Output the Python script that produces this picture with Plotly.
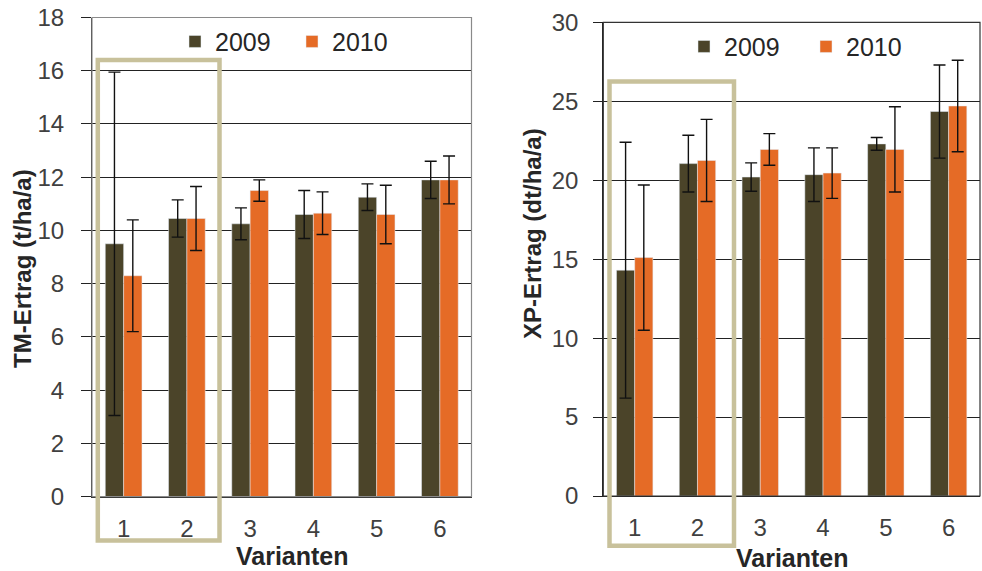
import plotly.graph_objects as go

# Varianten (categories)
varianten = ["1", "2", "3", "4", "5", "6"]

# TM-Ertrag (t/ha/a): means and standard deviations per year
tm_2009 = [9.5, 10.45, 10.25, 10.6, 11.25, 11.9]
tm_2009_sd = [6.45, 0.7, 0.6, 0.9, 0.5, 0.7]
tm_2010 = [8.3, 10.45, 11.5, 10.65, 10.6, 11.9]
tm_2010_sd = [2.1, 1.2, 0.4, 0.8, 1.1, 0.9]

# XP-Ertrag (dt/ha/a): means and standard deviations per year
xp_2009 = [14.3, 21.05, 20.2, 20.35, 22.3, 24.35]
xp_2009_sd = [8.1, 1.8, 0.9, 1.7, 0.4, 2.95]
xp_2010 = [15.1, 21.25, 21.95, 20.45, 21.95, 24.7]
xp_2010_sd = [4.6, 2.6, 1.0, 1.6, 2.7, 2.9]

W, H = 982, 571
C2009 = "#4b4429"
C2010 = "#e56b26"
BOX = "#c8c19b"
FONT = "Liberation Sans, Arial, sans-serif"


def fx(px):
    return px / W


def fy(py):
    return 1 - py / H


def err(sd):
    return dict(type="data", array=sd, visible=True, color="#111111",
                thickness=1.4, width=6)


fig = go.Figure()

fig.add_bar(x=varianten, y=tm_2009, error_y=err(tm_2009_sd), name="2009",
            marker_color=C2009, xaxis="x", yaxis="y", legend="legend")
fig.add_bar(x=varianten, y=tm_2010, error_y=err(tm_2010_sd), name="2010",
            marker_color=C2010, xaxis="x", yaxis="y", legend="legend")
fig.add_bar(x=varianten, y=xp_2009, error_y=err(xp_2009_sd), name="2009",
            marker_color=C2009, xaxis="x2", yaxis="y2", legend="legend2")
fig.add_bar(x=varianten, y=xp_2010, error_y=err(xp_2010_sd), name="2010",
            marker_color=C2010, xaxis="x2", yaxis="y2", legend="legend2")

# plot areas in pixels
L = dict(x0=92, x1=471.5, y0=17.5, y1=496.7)
R = dict(x0=603.3, x1=980, y0=22.3, y1=496)

tickfont = dict(family=FONT, size=24, color="#404040")

xax = dict(type="category", showline=True, linecolor="#222222", linewidth=1.2,
           ticks="", tickfont=tickfont, ticklabelstandoff=10, showgrid=False,
           automargin=False, fixedrange=True)
yax = dict(showline=True, linecolor="#222222", linewidth=1.2, ticks="outside",
           ticklen=10, tickcolor="#222222", tickwidth=1.2, tickfont=tickfont,
           showgrid=True, gridcolor="#222222", gridwidth=1.2, zeroline=False,
           ticklabelstandoff=12, automargin=False, fixedrange=True)

legfont = dict(family=FONT, size=25, color="#262626")

fig.update_layout(
    width=W, height=H,
    margin=dict(l=0, r=0, t=0, b=0, autoexpand=False),
    paper_bgcolor="white", plot_bgcolor="white",
    barmode="group", bargap=0.42, bargroupgap=0,
    font=dict(family=FONT, color="#262626"),
    xaxis=dict(xax, domain=[fx(L["x0"]), fx(L["x1"])], anchor="y"),
    yaxis=dict(yax, domain=[fy(L["y1"]), fy(L["y0"])], anchor="x",
               range=[0, 18], dtick=2),
    xaxis2=dict(xax, domain=[fx(R["x0"]), fx(R["x1"])], anchor="y2"),
    yaxis2=dict(yax, domain=[fy(R["y1"]), fy(R["y0"])], anchor="x2",
                range=[0, 30], dtick=5, ticklen=9, ticklabelstandoff=10),
    legend=dict(orientation="h", x=fx(175), xanchor="left", y=fy(41.7),
                yanchor="middle", font=legfont,
                bgcolor="rgba(0,0,0,0)", entrywidth=72),
    legend2=dict(orientation="h", x=fx(684), xanchor="left", y=fy(46.7),
                 yanchor="middle", font=legfont,
                 bgcolor="rgba(0,0,0,0)", entrywidth=77),
)

shapes = []
# plot frames
shapes.append(dict(type="rect", xref="paper", yref="paper",
                   x0=fx(L["x0"]), x1=fx(L["x1"]), y0=fy(L["y1"]), y1=fy(L["y0"]),
                   line=dict(color="#8a8a8a", width=1.2), layer="above"))
shapes.append(dict(type="rect", xref="paper", yref="paper",
                   x0=fx(R["x0"]), x1=fx(R["x1"]), y0=fy(R["y1"]), y1=fy(R["y0"]),
                   line=dict(color="#333333", width=1.2), layer="above"))
# highlight boxes around Varianten 1 and 2
shapes.append(dict(type="rect", xref="paper", yref="paper",
                   x0=fx(97.8), x1=fx(219.5), y0=fy(540.5), y1=fy(60),
                   line=dict(color=BOX, width=4.5), layer="above"))
shapes.append(dict(type="rect", xref="paper", yref="paper",
                   x0=fx(609.5), x1=fx(734), y0=fy(545.8), y1=fy(81.5),
                   line=dict(color=BOX, width=4.5), layer="above"))
fig.update_layout(shapes=shapes)

ytitlefont = dict(family=FONT, size=24, color="#262626")
xtitlefont = dict(family=FONT, size=25, color="#262626")
annotations = [
    dict(text="<b>TM-Ertrag (t/ha/a)</b>", textangle=-90, x=fx(22), y=fy(269),
         xref="paper", yref="paper", showarrow=False, font=ytitlefont,
         xanchor="center", yanchor="middle"),
    dict(text="<b>XP-Ertrag (dt/ha/a)</b>", textangle=-90, x=fx(532), y=fy(234),
         xref="paper", yref="paper", showarrow=False, font=ytitlefont,
         xanchor="center", yanchor="middle"),
    dict(text="<b>Varianten</b>", x=fx(292.5), y=fy(556), xref="paper", yref="paper",
         showarrow=False, font=xtitlefont, xanchor="center", yanchor="middle"),
    dict(text="<b>Varianten</b>", x=fx(792.5), y=fy(558), xref="paper", yref="paper",
         showarrow=False, font=xtitlefont, xanchor="center", yanchor="middle"),
]
fig.update_layout(annotations=annotations)

fig.write_html("out.html")
